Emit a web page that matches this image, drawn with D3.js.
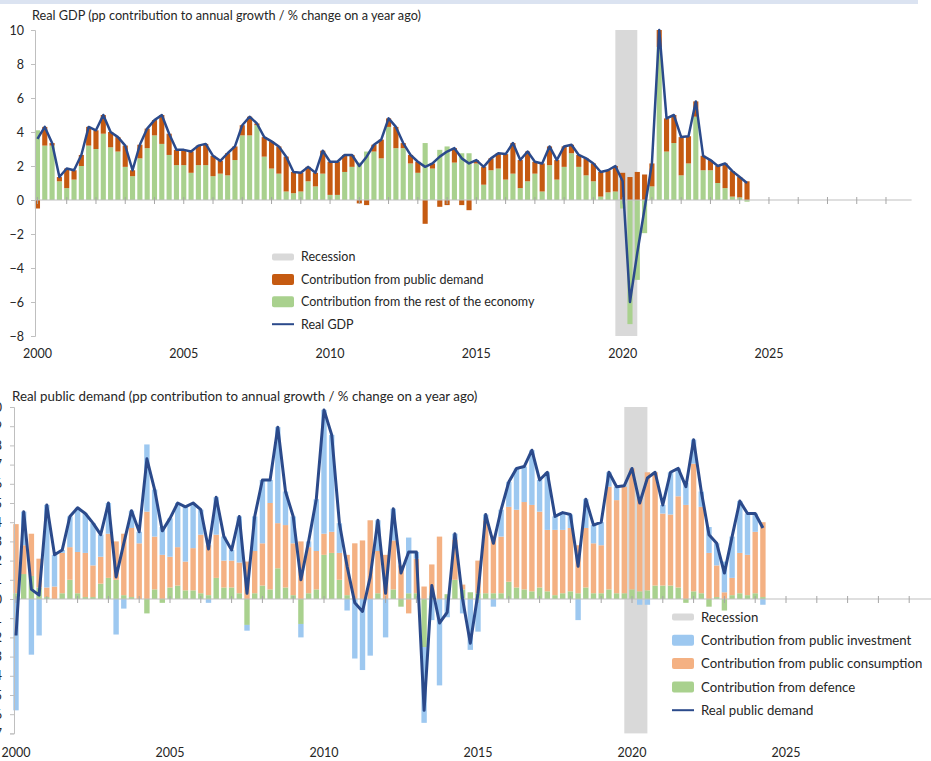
<!DOCTYPE html>
<html>
<head>
<meta charset="utf-8">
<script src="https://cdnjs.cloudflare.com/ajax/libs/d3/7.8.5/d3.min.js"></script>
<style>
  body { margin: 0; background: #fff; }
  text { font-family: Lato, "Open Sans", sans-serif; fill: #262626; }
</style>
</head>
<body>
<script>
const width = 931;
const height = 761;

// categories: quarters 2000Q1 .. 2029Q4 (axis runs to 2030, data stops at 2024Q2)
const years = d3.range(2000, 2030);
const quarters = [];
years.forEach(y => [1, 2, 3, 4].forEach(q => quarters.push(y + "Q" + q)));
const yearLabels = [2000, 2005, 2010, 2015, 2020, 2025];
const recessionStart = "2019Q4";
const recessionEnd = "2020Q3";

// ---- Real GDP panel ----
const gdpRest = [4.1, 3.2, 3.2, 1.1, 0.7, 1.2, 2.0, 3.2, 3.0, 3.9, 3.1, 2.85, 1.95, 1.4, 2.45, 3.05, 3.8, 3.3, 2.65, 2.05,
  2.05, 1.6, 2.05, 2.05, 1.4, 1.55, 1.45, 2.35, 3.8, 3.8, 4.4, 2.55, 1.85, 1.55, 0.5, 0.4, 0.5, 1.1, 0.8, 1.55,
  0.3, 0.3, 1.65, 1.95, 2.2, 2.85, 2.85, 2.45, 4.3, 3.05, 3.05, 2.15, 1.6, 3.35, 1.85, 2.95, 3.15, 2.2, 2.75, 2.75,
  2.15, 0.9, 1.75, 1.85, 1.2, 1.55, 0.7, 1.1, 1.55, 0.5, 2.05, 1.2, 1.95, 2.75, 1.95, 1.45, 1.1, 0.2, 0.45, 0.5,
  -0.5, -7.3, -4.7, -1.95, 0.8, 9.0, 2.85, 3.35, 1.45, 2.15, 4.9, 1.75, 1.75, 1.0, 0.7, 0.2, 0.15, -0.1];
const gdpPublic = [-0.5, 1.1, 0.15, 0.25, 1.15, 0.55, 0.65, 1.1, 1.1, 1.1, 0.9, 0.85, 1.25, 0.35, 0.8, 1.15, 0.9, 1.7, 1.25, 0.9,
  0.9, 1.25, 1.15, 1.25, 1.2, 0.75, 1.3, 0.8, 0.6, 1.1, 0.1, 1.15, 1.6, 1.6, 2.05, 1.25, 1.1, 0.85, 0.8, 1.35,
  1.95, 1.95, 1.0, 0.7, -0.2, -0.3, 0.4, 1.1, 0.5, 1.25, 0.3, 0.5, 0.65, -1.4, 0.3, -0.4, -0.3, 0.85, -0.3, -0.6,
  0.2, 1.05, 0.7, 0.9, 1.5, 1.8, 1.65, 1.75, 0.7, 1.65, 1.1, 1.15, 1.2, 0.5, 0.7, 1.0, 1.05, 1.45, 1.3, 1.5,
  1.6, 1.35, 1.65, 1.5, 1.35, 1.0, 1.95, 1.65, 2.25, 1.6, 0.9, 0.85, 0.6, 1.0, 1.45, 1.5, 1.2, 1.1];
const gdpGrowth = [3.6, 4.3, 3.35, 1.35, 1.85, 1.75, 2.65, 4.3, 4.1, 5.0, 4.0, 3.7, 3.2, 1.75, 3.25, 4.2, 4.7, 5.0, 3.9, 2.95,
  2.95, 2.85, 3.2, 3.3, 2.6, 2.3, 2.75, 3.15, 4.4, 4.9, 4.5, 3.7, 3.45, 3.15, 2.55, 1.65, 1.6, 1.95, 1.6, 2.9,
  2.25, 2.25, 2.65, 2.65, 2.0, 2.55, 3.25, 3.55, 4.8, 4.3, 3.35, 2.65, 2.25, 1.95, 2.15, 2.55, 2.85, 3.05, 2.45, 2.15,
  2.35, 1.95, 2.45, 2.75, 2.7, 3.35, 2.35, 2.85, 2.25, 2.15, 3.15, 2.35, 3.15, 3.25, 2.65, 2.45, 2.15, 1.65, 1.75, 2.0,
  1.1, -6.0, -3.1, -0.5, 2.15, 10.0, 4.8, 5.0, 3.7, 3.75, 5.8, 2.6, 2.35, 2.0, 2.15, 1.7, 1.35, 1.0];

// ---- Real public demand panel ----
const pdDefence = [0.3, 1.3, 1.2, 0.6, 0.1, 0.0, 0.3, 1.0, 0.3, 0.1, 0.1, 0.8, 1.1, 1.0, 0.2, 0.1, 0.0, -0.75, 0.5, -0.2,
  0.6, 0.7, 0.45, 0.45, 0.3, 0.2, 1.1, 0.6, 0.6, 0.3, -1.35, 0.3, 0.7, 0.5, 1.6, 0.6, 0.2, -1.3, 0.3, 0.5,
  2.3, 2.4, 1.0, 0.2, 0.0, 0.0, 0.0, 0.3, 0.0, 0.5, -0.4, 0.3, 0.3, -2.5, 0.2, 0.0, 0.25, 1.0, 0.5, 0.35,
  0.3, 0.3, 0.3, 0.3, 0.9, 0.6, 0.5, 0.4, 0.6, 0.4, 0.2, 0.3, 0.4, 0.3, 0.6, 0.3, 0.3, 0.5, 0.3, 0.3,
  0.5, 0.4, 0.45, 0.7, 0.7, 0.7, 0.6, -0.2, 0.4, 0.3, -0.4, 0.1, -0.6, 0.2, 0.3, 0.2, 0.3, 0.1];
const pdConsumption = [3.6, 1.5, 2.2, 1.5, 0.5, 0.65, 2.1, 1.7, 2.15, 2.3, 1.65, 1.4, 2.3, 2.0, 3.2, 3.6, 2.9, 4.55, 2.75, 2.3,
  1.6, 2.0, 1.5, 2.2, 3.05, 2.6, 2.25, 1.4, 1.4, 1.6, 1.95, 2.2, 2.2, 4.5, 2.35, 3.25, 2.7, 3.0, 2.4, 2.0,
  1.1, 1.1, 1.4, 2.1, 2.9, 3.05, 4.1, 2.2, 2.3, 2.55, 1.75, -0.75, 1.8, 0.65, 1.6, 3.25, 0.0, 2.1, 0.25, 0.0,
  1.7, 3.8, 3.0, 2.95, 3.9, 4.05, 4.55, 4.5, 3.95, 3.2, 3.4, 3.3, 3.3, 2.5, 3.1, 2.6, 2.5, 5.35, 4.85, 5.55,
  6.3, 4.9, 6.15, 5.9, 3.75, 3.7, 4.75, 4.9, 6.65, 4.5, 2.4, 1.65, 0.35, 0.9, 2.1, 2.1, 3.2, 3.9];
const pdInvestment = [-5.8, 1.75, -2.9, -1.9, 4.3, 1.65, 0.15, 1.6, 2.3, 2.05, 2.2, 1.15, 1.6, -1.85, -0.5, 0.9, 0.6, 3.5, 2.45, 1.45,
  2.0, 2.3, 2.85, 2.35, 1.3, -0.2, 1.95, 1.25, 0.55, 2.4, -0.3, 1.8, 3.3, 1.2, 5.0, 1.75, 1.4, -0.7, 0.3, 2.7,
  6.45, 5.05, 1.55, -0.6, -3.1, -3.7, -2.95, 1.6, -2.0, 1.65, 0.0, 2.9, 0.35, -3.95, -1.1, -4.5, -0.95, 0.3, -0.75, -2.65,
  -1.7, 0.3, -0.4, 1.4, 1.3, 2.15, 1.85, 2.85, 1.65, 3.0, 0.7, 0.9, 0.7, -1.1, 1.5, 0.95, 1.2, 0.75, 0.7, 0.05,
  0.0, -0.3, -0.3, 0.0, 0.45, 2.2, 1.45, 1.15, 1.25, 0.8, 1.35, 1.15, 1.6, 2.15, 2.7, 2.15, 0.95, -0.3];
const pdGrowth = [-1.9, 4.55, 0.5, 0.2, 4.9, 2.3, 2.55, 4.3, 4.75, 4.45, 3.95, 3.35, 5.0, 1.15, 2.9, 4.6, 3.5, 7.3, 5.7, 3.55,
  4.2, 5.0, 4.8, 5.0, 4.65, 2.6, 5.3, 3.25, 2.55, 4.3, 0.3, 4.3, 6.2, 6.2, 8.95, 5.6, 4.3, 1.0, 3.0, 5.2,
  9.85, 8.55, 3.95, 1.7, -0.2, -0.65, 1.15, 4.1, 0.3, 4.7, 1.35, 2.45, 2.45, -5.8, 0.7, -1.25, -0.7, 3.4, 0.0, -2.3,
  0.3, 4.4, 2.9, 4.65, 6.1, 6.8, 6.9, 7.75, 6.2, 6.6, 4.3, 4.5, 4.4, 1.7, 5.2, 3.85, 4.0, 6.6, 5.85, 5.9,
  6.8, 5.0, 6.3, 6.6, 4.9, 6.6, 6.8, 5.85, 8.3, 5.6, 3.35, 2.9, 1.35, 3.25, 5.1, 4.45, 4.45, 3.7];

const svg = d3.select("body").append("svg").attr("width", width).attr("height", height);

// pale header strip
svg.append("rect").attr("x", 0).attr("y", 0).attr("width", 918).attr("height", 4).attr("fill", "#dbe3f1");

function drawPanel(p) {
  const g = svg.append("g");
  const x = d3.scaleBand().domain(quarters).range(p.xRange).paddingInner(0.3).paddingOuter(0.15);
  const y = d3.scaleLinear().domain(p.yDomain).range(p.yRange);
  const cx = q => x(q) + x.bandwidth() / 2;

  // recession shading
  g.append("rect")
    .attr("x", cx(recessionStart)).attr("width", cx(recessionEnd) - cx(recessionStart))
    .attr("y", p.yRange[1]).attr("height", p.yRange[0] - p.yRange[1])
    .attr("fill", "#d9d9d9");

  // stacked bars
  const rows = p.series[0].values.map((_, i) => {
    const r = { q: quarters[i] };
    p.series.forEach(s => r[s.key] = s.values[i]);
    return r;
  });
  const stack = d3.stack().keys(p.series.map(s => s.key)).offset(d3.stackOffsetDiverging)(rows);
  stack.forEach((layer, k) => {
    g.append("g").attr("fill", p.series[k].color)
      .selectAll("rect").data(layer).enter().append("rect")
      .attr("x", d => x(d.data.q))
      .attr("width", x.bandwidth())
      .attr("y", d => y(Math.max(d[0], d[1])))
      .attr("height", d => Math.abs(y(d[0]) - y(d[1])));
  });

  // y axis
  const yAxis = g.append("g").attr("transform", `translate(${p.yAxisX},0)`)
    .call(d3.axisLeft(y).tickValues(p.yTicks).tickSize(4).tickPadding(p.tickPad).tickFormat(d3.format("d")));
  yAxis.select(".domain").attr("stroke", "#bfbfbf");
  yAxis.selectAll(".tick line").attr("stroke", "#bfbfbf");
  yAxis.selectAll(".tick text").style("font-size", "12.5px").style("font-family", "Lato, sans-serif").attr("fill", "#262626");

  // x axis at zero
  const y0 = y(0);
  g.append("line").attr("x1", p.yAxisX).attr("x2", p.xRange[1]).attr("y1", y0).attr("y2", y0)
    .attr("stroke", "#bfbfbf").attr("stroke-width", 1);
  g.selectAll(".ytick").data(years).enter().append("line")
    .attr("x1", d => cx(d + "Q1")).attr("x2", d => cx(d + "Q1"))
    .attr("y1", y0 - 3).attr("y2", y0 + 4).attr("stroke", "#a6a6a6");
  g.selectAll(".ylab").data(yearLabels).enter().append("text")
    .attr("x", d => cx(d + "Q1")).attr("y", p.xLabelY)
    .attr("text-anchor", "middle").style("font-size", "12.5px").text(d => d);

  // line
  const line = d3.line().x((d, i) => cx(quarters[i])).y(d => y(d));
  g.append("path").datum(p.lineValues).attr("d", line)
    .attr("fill", "none").attr("stroke", "#2b4a8b").attr("stroke-width", p.lineWidth)
    .attr("stroke-linejoin", "round");

  // title
  g.append("text").attr("x", p.titleX).attr("y", p.titleY).style("font-size", p.titleSize).text(p.title);

  // legend
  p.legend.forEach((item, i) => {
    const ly = p.legendY + i * p.legendStep;
    if (item.type === "line") {
      g.append("line").attr("x1", p.legendX).attr("x2", p.legendX + 22).attr("y1", ly).attr("y2", ly)
        .attr("stroke", item.color).attr("stroke-width", 2);
    } else {
      const h = item.type === "thin" ? 7 : 11;
      g.append("rect").attr("x", p.legendX).attr("y", ly - h / 2).attr("width", 22).attr("height", h)
        .attr("rx", 2).attr("fill", item.color);
    }
    g.append("text").attr("x", p.legendX + 29).attr("y", ly).attr("dy", "0.35em")
      .style("font-size", p.legendSize).text(item.label);
  });
}

drawPanel({
  xRange: [33.8, 911.6], yDomain: [-8, 10], yRange: [336, 30], yTicks: d3.range(-8, 11, 2), yAxisX: 35, tickPad: 7,
  xLabelY: 358, titleX: 32, titleY: 20, lineWidth: 2.5, titleSize: "12.7px", legendSize: "12.5px",
  title: "Real GDP (pp contribution to annual growth / % change on a year ago)",
  series: [
    { key: "rest", values: gdpRest, color: "#a9d18e" },
    { key: "public", values: gdpPublic, color: "#c55a11" }
  ],
  lineValues: gdpGrowth,
  legendX: 272, legendY: 257, legendStep: 22.4,
  legend: [
    { type: "thin", color: "#d9d9d9", label: "Recession" },
    { type: "rect", color: "#c55a11", label: "Contribution from public demand" },
    { type: "rect", color: "#a9d18e", label: "Contribution from the rest of the economy" },
    { type: "line", color: "#2b4a8b", label: "Real GDP" }
  ]
});

drawPanel({
  xRange: [12.15, 936.15], yDomain: [-7, 10], yRange: [733.4, 407], yTicks: d3.range(-7, 11, 1), yAxisX: 14, tickPad: 8,
  xLabelY: 757, titleX: 12, titleY: 401, lineWidth: 3, titleSize: "13.3px", legendSize: "13.2px",
  title: "Real public demand (pp contribution to annual growth / % change on a year ago)",
  series: [
    { key: "defence", values: pdDefence, color: "#a9d18e" },
    { key: "consumption", values: pdConsumption, color: "#f4b183" },
    { key: "investment", values: pdInvestment, color: "#9dc8f0" }
  ],
  lineValues: pdGrowth,
  legendX: 672, legendY: 617, legendStep: 23.3,
  legend: [
    { type: "thin", color: "#d9d9d9", label: "Recession" },
    { type: "rect", color: "#9dc8f0", label: "Contribution from public investment" },
    { type: "rect", color: "#f4b183", label: "Contribution from public consumption" },
    { type: "rect", color: "#a9d18e", label: "Contribution from defence" },
    { type: "line", color: "#2b4a8b", label: "Real public demand" }
  ]
});
</script>
</body>
</html>
